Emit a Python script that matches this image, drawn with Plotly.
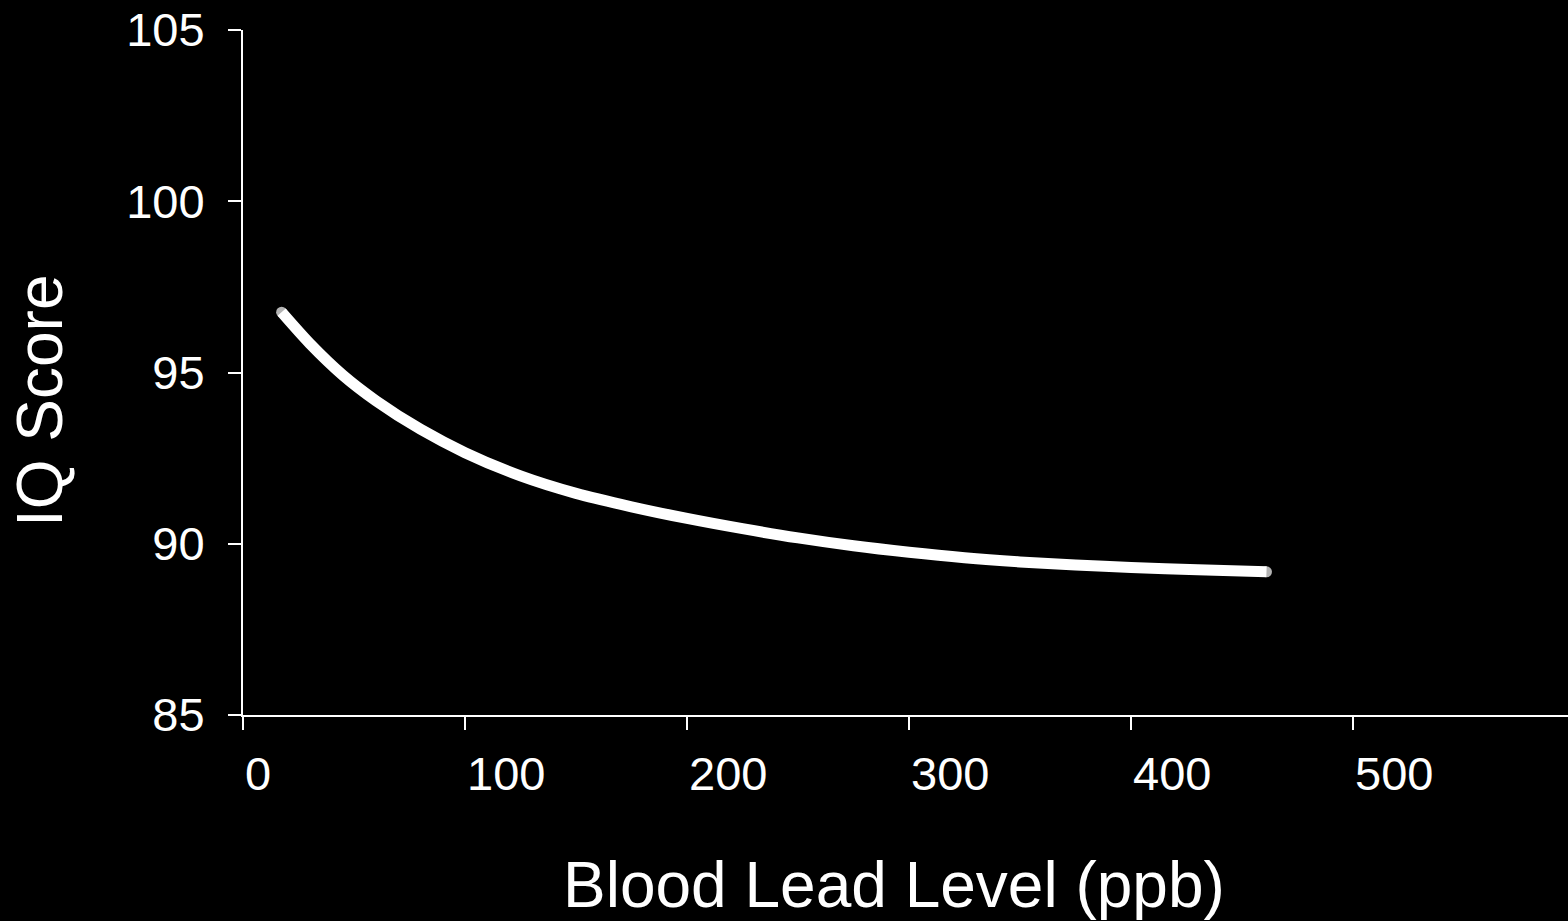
import plotly.graph_objects as go

# Data
blood_lead_ppb = [17.4, 30, 45, 60, 80, 100, 125, 150, 175, 200, 225, 250, 275, 300, 325, 350, 375, 400, 430, 461]
iq_score = [96.76, 95.85, 94.92, 94.17, 93.34, 92.66, 91.98, 91.47, 91.08, 90.74, 90.44, 90.17, 89.94, 89.75, 89.59, 89.47, 89.38, 89.31, 89.24, 89.18]

x_ticks = [0, 100, 200, 300, 400, 500]
y_ticks = [85, 90, 95, 100, 105]

x_title = "Blood Lead Level (ppb)"
y_title = "IQ Score"

FONT = "Arial, 'Liberation Sans', Helvetica, sans-serif"
LINE_W = 11

cap_sizes = [LINE_W if i in (0, len(blood_lead_ppb) - 1) else 0 for i in range(len(blood_lead_ppb))]

fig = go.Figure()
fig.add_trace(go.Scatter(
    x=blood_lead_ppb, y=iq_score,
    mode="lines+markers",
    line=dict(color="white", width=LINE_W, shape="spline", smoothing=0.8),
    marker=dict(color="white", size=cap_sizes, line=dict(width=0)),
    hoverinfo="skip",
    showlegend=False,
))

W, H = 1568, 921
L, R, T, B = 243, 0, 30, 206

fig.update_layout(
    width=W, height=H,
    margin=dict(l=L, r=R, t=T, b=B, pad=0),
    paper_bgcolor="black", plot_bgcolor="black",
    font=dict(family=FONT, color="white"),
    showlegend=False,
    xaxis=dict(
        range=[0, 596.8], tickvals=x_ticks, ticktext=[str(v) for v in x_ticks],
        showgrid=False, zeroline=False,
        showline=True, linecolor="white", linewidth=2,
        ticks="outside", ticklen=13, tickwidth=2, tickcolor="white",
        ticklabelposition="outside right",
        tickfont=dict(size=47, family=FONT, color="white"),
        ticklabelstandoff=17,
    ),
    yaxis=dict(
        range=[85, 105], tickvals=y_ticks, ticktext=[str(v) for v in y_ticks],
        showgrid=False, zeroline=False,
        showline=True, linecolor="white", linewidth=2,
        ticks="outside", ticklen=13, tickwidth=2, tickcolor="white",
        tickfont=dict(size=47, family=FONT, color="white"),
        ticklabelstandoff=14,
    ),
    annotations=[
        dict(text=x_title, xref="paper", yref="paper",
             x=(894 - L) / (W - L - R), y=(715 - 885) / (715 - 30),
             xanchor="center", yanchor="middle", showarrow=False,
             font=dict(size=64, family=FONT, color="white")),
        dict(text=y_title, xref="paper", yref="paper",
             x=(40 - L) / (W - L - R), y=(715 - 401) / (715 - 30),
             xanchor="center", yanchor="middle", showarrow=False, textangle=-90,
             font=dict(size=64, family=FONT, color="white")),
    ],
)

fig.write_html(
    "out.html",
    config={"displayModeBar": False},
    post_script="document.body.style.margin='0';document.body.style.background='black';document.body.style.overflow='hidden';",
)
